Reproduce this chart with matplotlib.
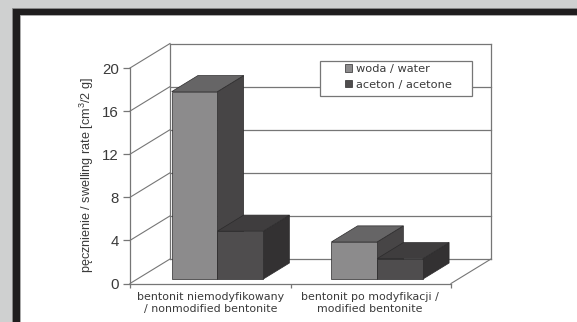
import matplotlib
matplotlib.use('Agg')
import matplotlib.pyplot as plt
from matplotlib.patches import Polygon, Patch, Rectangle

plt.rcParams['font.family'] = ['Liberation Sans', 'DejaVu Sans']
plt.rcParams['mathtext.fontset'] = 'custom'
plt.rcParams['mathtext.rm'] = 'Liberation Sans'
plt.rcParams['mathtext.default'] = 'rm'

categories = ['bentonit niemodyfikowany\n/ nonmodified bentonite',
              'bentonit po modyfikacji /\nmodified bentonite']
series_names = ['woda / water', 'aceton / acetone']
water = [17.4, 3.45]
acetone = [4.45, 1.9]
y_ticks = [0, 4, 8, 12, 16, 20]

W, H = 577, 322
text_col = '#3a3a3a'
line_col = '#767676'
front_cols = ['#8c8b8c', '#4f4d4e']
top_cols = ['#666566', '#3f3d3e']
side_cols = ['#474546', '#333132']
edge_col = '#2c2b2c'

# depth of the fake 3d box, in data units
depth_x = 40 / 160.5
depth_y = 24.5 / 10.775
bar_w = 0.285
bar_d0 = 0.18
bar_d1 = 0.835


def px(x, y):
    return x / W, 1 - y / H


def sh(x, y, d):
    return x + depth_x * d, y + depth_y * d


fig = plt.figure(figsize=(W / 100, H / 100), dpi=100, facecolor='#cfd0d0')

# dark frame around the white page
fig.add_artist(Rectangle(px(12, 322), (W - 12) / W, 314 / H, transform=fig.transFigure,
                         fc='#1f1d1e', ec='#8a8a8a', lw=0.6, zorder=-3))
fig.add_artist(Rectangle(px(20, 322), (W - 20) / W, 307 / H, transform=fig.transFigure,
                         fc='white', ec='#b0b0b0', lw=0.6, zorder=-2))

ax = fig.add_axes([130 / W, 1 - 283.5 / H, 321 / W, 215.5 / H])
ax.set_xlim(0, 2)
ax.set_ylim(0, 20)
ax.patch.set_alpha(0)
for s in ['top', 'right']:
    ax.spines[s].set_visible(False)
for s in ['left', 'bottom']:
    ax.spines[s].set_color(line_col)
    ax.spines[s].set_linewidth(0.9)

# walls and gridlines
for v in y_ticks:
    ax.plot([0, depth_x], [v, v + depth_y], color=line_col, lw=0.8, clip_on=False, zorder=1)
    ax.plot([depth_x, 2 + depth_x], [v + depth_y, v + depth_y], color=line_col, lw=0.9,
            clip_on=False, zorder=1)
ax.plot([depth_x, depth_x], [depth_y, 20 + depth_y], color=line_col, lw=0.9, clip_on=False, zorder=1)
ax.plot([2 + depth_x, 2 + depth_x], [depth_y, 20 + depth_y], color=line_col, lw=0.9, clip_on=False, zorder=1)
ax.plot([2, 2 + depth_x], [0, depth_y], color=line_col, lw=0.8, clip_on=False, zorder=1)

# legend box sits over the gridlines
ax.add_patch(Rectangle((1.183, 17.43), 0.947, 3.25, fc='white', ec=line_col, lw=0.9,
                       clip_on=False, zorder=2))


def bar3d(x0, val, k, z):
    x1 = x0 + bar_w
    front = [sh(x0, 0, bar_d0), sh(x1, 0, bar_d0), sh(x1, val, bar_d0), sh(x0, val, bar_d0)]
    top = [sh(x0, val, bar_d0), sh(x1, val, bar_d0), sh(x1, val, bar_d1), sh(x0, val, bar_d1)]
    side = [sh(x1, 0, bar_d0), sh(x1, 0, bar_d1), sh(x1, val, bar_d1), sh(x1, val, bar_d0)]
    for pts, c in [(side, side_cols[k]), (top, top_cols[k]), (front, front_cols[k])]:
        ax.add_patch(Polygon(pts, closed=True, fc=c, ec=edge_col, lw=0.5, clip_on=False, zorder=z))


centers = [0.5, 1.495]
for i, c in enumerate(centers):
    bar3d(c - bar_w, water[i], 0, 3 + i * 2)
    bar3d(c, acetone[i], 1, 4 + i * 2)

ax.set_yticks(y_ticks)
ax.tick_params(axis='y', labelsize=10.8, labelcolor=text_col, color=line_col, length=5, width=0.9, pad=3)
ax.set_xticks([0, 1, 2])
ax.set_xticklabels([])
ax.tick_params(axis='x', color=line_col, length=3, width=0.9)
ax.set_xticks(centers, minor=True)
ax.set_xticklabels(categories, minor=True, fontsize=7.9, color=text_col, linespacing=1.3,
                   family='DejaVu Sans')
ax.tick_params(axis='x', which='minor', length=0, pad=6)

fig.text(87 / W, 1 - 175 / H, 'pęcznienie / swelling rate [cm$^3$/2 g]', rotation=90,
         ha='center', va='center', fontsize=9.1, color=text_col)

handles = [Patch(fc=front_cols[0], ec=edge_col, lw=0.5), Patch(fc=front_cols[1], ec=edge_col, lw=0.5)]
leg = ax.legend(handles, series_names, loc='upper left', bbox_to_anchor=(340 / W, 1 - 59.5 / H),
                bbox_transform=fig.transFigure, frameon=False, labelcolor=text_col,
                prop={'family': 'DejaVu Sans', 'size': 8.2},
                handlelength=0.62, handleheight=0.62, handletextpad=0.35, labelspacing=0.5,
                borderpad=0.4, borderaxespad=0)
leg.set_zorder(10)

fig.savefig('out.png', dpi=100, facecolor=fig.get_facecolor())
